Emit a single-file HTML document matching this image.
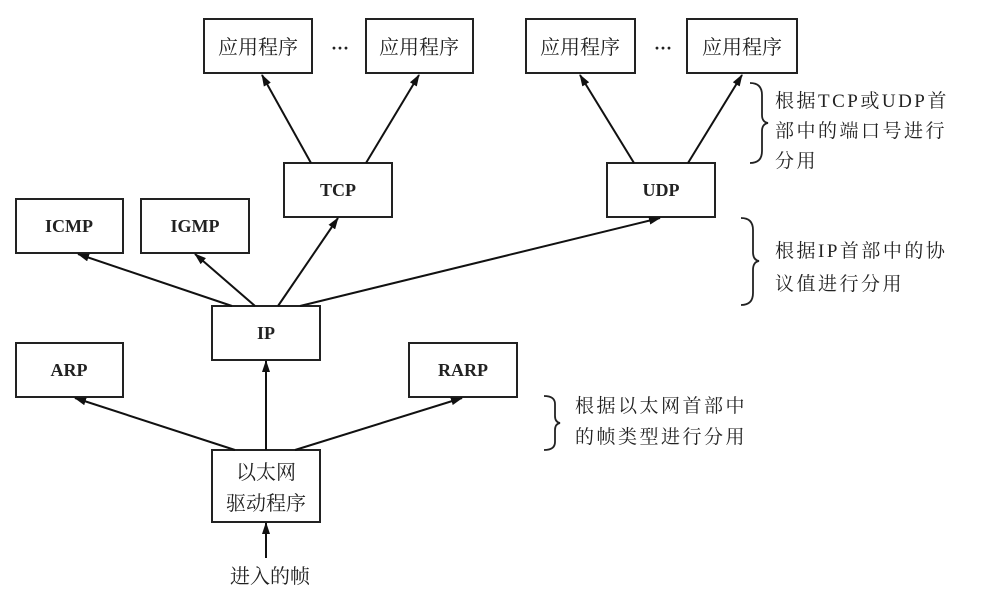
<!DOCTYPE html>
<html><head><meta charset="utf-8"><style>
html,body{margin:0;padding:0;background:#fff;width:995px;height:595px;overflow:hidden}
svg text{font-family:"Liberation Serif","Noto Serif CJK SC",serif;fill:#222}
.c{font-family:"Liberation Serif","Noto Sans CJK SC",sans-serif;font-size:20px}
.r{font-family:"Liberation Serif","Noto Sans CJK SC",sans-serif;font-size:19px;letter-spacing:2.5px}
.b{font-size:18px;font-weight:bold}
</style></head><body>
<svg width="995" height="595" viewBox="0 0 995 595" xmlns="http://www.w3.org/2000/svg">
<defs><marker id="a" markerWidth="12" markerHeight="8" refX="11" refY="4" orient="auto" markerUnits="userSpaceOnUse"><path d="M0,0 L12,4 L0,8z" fill="#111"/></marker></defs>
<g fill="none" stroke="#222" stroke-width="2">
<rect x="204" y="19" width="108" height="54"/><rect x="366" y="19" width="107" height="54"/>
<rect x="526" y="19" width="109" height="54"/><rect x="687" y="19" width="110" height="54"/>
<rect x="284" y="163" width="108" height="54"/><rect x="607" y="163" width="108" height="54"/>
<rect x="16" y="199" width="107" height="54"/><rect x="141" y="199" width="108" height="54"/>
<rect x="212" y="306" width="108" height="54"/>
<rect x="16" y="343" width="107" height="54"/><rect x="409" y="343" width="108" height="54"/>
<rect x="212" y="450" width="108" height="72"/>
</g>
<g stroke="#111" stroke-width="2" marker-end="url(#a)">
<line x1="311" y1="163" x2="262" y2="75"/><line x1="366" y1="163" x2="419" y2="75"/>
<line x1="634" y1="163" x2="580" y2="75"/><line x1="688" y1="163" x2="742" y2="75"/>
<line x1="232" y1="306" x2="78" y2="254"/><line x1="255" y1="306" x2="195" y2="254"/>
<line x1="278" y1="306" x2="338" y2="218"/><line x1="300" y1="306" x2="660" y2="218"/>
<line x1="235" y1="450" x2="75" y2="398"/><line x1="266" y1="450" x2="266" y2="361"/>
<line x1="295" y1="450" x2="462" y2="398"/><line x1="266" y1="558" x2="266" y2="523"/>
</g>
<g fill="none" stroke="#222" stroke-width="1.8">
<path d="M750,83 Q762,83 762,95 L762,115 Q762,122 768,123 Q762,124 762,131 L762,151 Q762,163 750,163"/>
<path d="M741,218 Q753,218 753,230 L753,252 Q753,260 759,261 Q753,262 753,270 L753,293 Q753,305 741,305"/>
<path d="M544,396 Q555,396 555,404 L555,416 Q555,422 560,423 Q555,424 555,430 L555,442 Q555,450 544,450"/>
</g>
<g class="c" text-anchor="middle">
<text x="258" y="54">应用程序</text><text x="419" y="54">应用程序</text>
<text x="580" y="54">应用程序</text><text x="742" y="54">应用程序</text>
<text x="266" y="479">以太网</text><text x="266" y="510">驱动程序</text>
<text x="270" y="583">进入的帧</text>
</g>
<g class="b" font-size="20" text-anchor="middle">
<text x="340" y="54">···</text><text x="663" y="54">···</text>
</g>
<g class="b" text-anchor="middle">
<text x="338" y="196">TCP</text><text x="661" y="196">UDP</text>
<text x="69" y="232">ICMP</text><text x="195" y="232">IGMP</text>
<text x="266" y="339">IP</text>
<text x="69" y="376">ARP</text><text x="463" y="376">RARP</text>
</g>
<g class="r">
<text x="775" y="107">根据TCP或UDP首</text><text x="775" y="137">部中的端口号进行</text><text x="775" y="167">分用</text>
<text x="775" y="257">根据IP首部中的协</text><text x="775" y="290">议值进行分用</text>
<text x="575" y="412">根据以太网首部中</text><text x="575" y="443">的帧类型进行分用</text>
</g>
</svg>
</body></html>
